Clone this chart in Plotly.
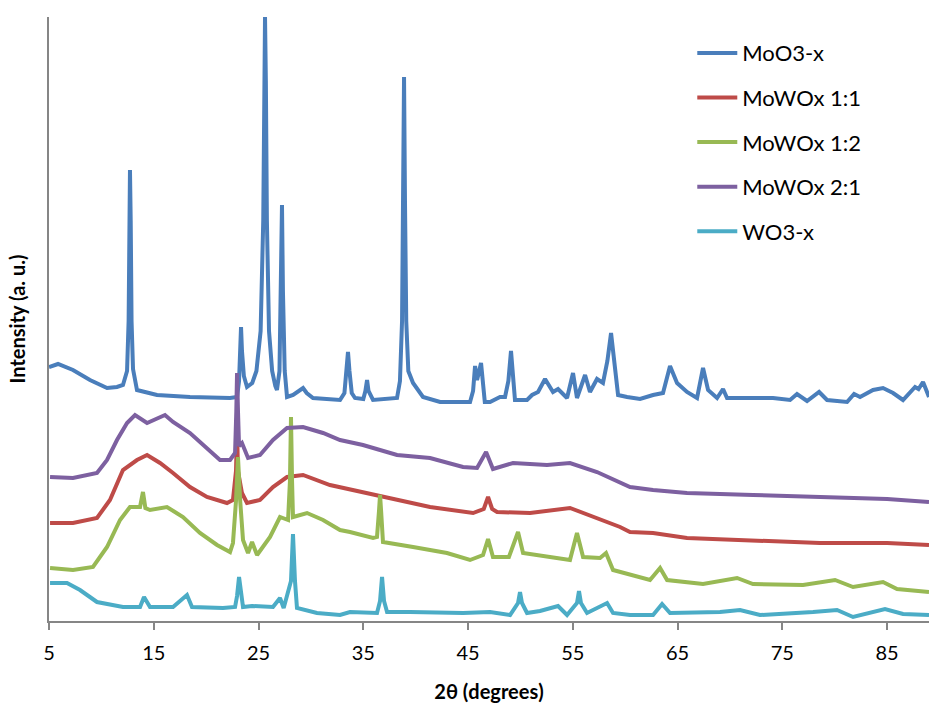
import plotly.graph_objects as go

# ---- data (2theta in degrees, intensity in arbitrary units) ----
moo3_x = [5.00, 5.86, 7.29, 8.91, 10.54, 11.49, 12.06, 12.45, 12.60, 12.68, 12.73, 12.80, 12.88, 13.02, 13.40,
          15.31, 18.46, 22.28, 22.95, 23.14, 23.25, 23.33, 23.42, 23.60, 23.90, 24.40, 24.80, 25.20, 25.45, 25.55,
          25.62, 25.70, 25.80, 26.00, 26.30, 26.60, 26.76, 27.00, 27.15, 27.24, 27.33, 27.50, 27.72, 28.30, 29.25,
          29.60, 30.20, 32.78, 33.20, 33.40, 33.54, 33.68, 33.90, 34.21, 35.00, 35.20, 35.36, 35.50, 35.93, 38.22,
          38.50, 38.70, 38.80, 38.89, 38.98, 39.10, 39.30, 39.75, 40.70, 42.33, 45.19, 45.48, 45.67, 45.86, 46.24,
          46.60, 47.10, 48.05, 48.53, 48.85, 49.10, 49.30, 49.48, 50.63, 51.11, 51.68, 52.35, 53.11, 53.59, 54.45,
          55.02, 55.40, 56.17, 56.64, 57.31, 57.88, 58.30, 58.65, 58.95, 59.32, 60.18, 61.42, 62.66, 63.61, 64.28,
          64.95, 65.90, 66.86, 67.43, 67.91, 68.77, 69.34, 69.72, 70.96, 74.11, 75.74, 76.40, 77.36, 78.51, 79.27,
          81.18, 81.85, 82.42, 83.66, 84.61, 85.57, 86.52, 87.67, 88.00, 88.43, 89.00]
moo3_y = [254, 257, 251, 241, 233, 234, 236, 250, 300, 400, 451, 400, 300, 252, 231,
          226, 224, 223, 224, 240, 270, 294, 270, 245, 234, 238, 250, 290, 400, 540,
          604, 540, 400, 290, 250, 235, 231, 250, 330, 416, 330, 250, 224, 226, 233,
          228, 223, 221, 228, 250, 269, 250, 228, 223, 222, 230, 241, 230, 221, 223,
          240, 300, 420, 544, 420, 300, 250, 238, 224, 219, 219, 230, 255, 241, 258,
          219, 219, 224, 224, 240, 270, 240, 221, 221, 226, 229, 242, 229, 232, 223,
          248, 223, 246, 229, 242, 238, 260, 288, 260, 226, 224, 222, 226, 228, 255,
          238, 229, 223, 253, 231, 223, 232, 223, 223, 223, 221, 227, 220, 229, 221,
          219, 227, 224, 231, 233, 228, 221, 234, 232, 239, 224]

w11_x = [5.10, 7.29, 9.58, 10.82, 12.06, 13.40, 14.36, 15.60, 16.84, 18.46, 20.08, 21.99, 22.56, 22.85, 22.95,
         23.04, 23.42, 23.90, 25.14, 26.38, 27.72, 29.25, 31.82, 34.97, 38.22, 41.37, 45.48, 46.50, 46.91, 47.30,
         47.77, 50.92, 54.73, 57.31, 59.51, 60.46, 62.66, 65.90, 72.20, 78.60, 85.00, 89.00]
w11_y = [98, 98, 103, 121, 151, 161, 166, 158, 148, 134, 124, 118, 121, 150, 193,
         150, 128, 118, 121, 134, 144, 146, 136, 129, 121, 114, 108, 112, 124, 112,
         109, 108, 113, 103, 94, 89, 88, 83, 81, 78, 78, 76]

w12_x = [5.10, 7.29, 9.20, 10.54, 11.78, 12.73, 13.69, 13.97, 14.20, 14.64, 16.26, 17.79, 19.41, 21.04, 22.28,
         22.56, 22.85, 23.04, 23.25, 23.52, 24.00, 24.38, 24.86, 26.10, 27.05, 27.82, 28.00, 28.10, 28.20, 28.29,
         29.63, 31.16, 32.78, 33.73, 35.93, 36.31, 36.50, 36.60, 36.70, 36.88, 39.75, 42.99, 45.19, 46.43, 46.91,
         47.38, 48.90, 49.77, 50.25, 52.54, 54.73, 55.40, 55.98, 57.60, 58.17, 58.84, 60.46, 62.37, 63.33, 64.00,
         67.43, 70.68, 72.20, 76.98, 80.03, 81.75, 84.61, 85.95, 89.00]
w12_y = [53, 51, 54, 74, 101, 114, 114, 129, 113, 111, 114, 104, 88, 76, 69,
         78, 120, 164, 120, 81, 68, 79, 66, 84, 104, 101, 140, 204, 140, 104,
         108, 101, 91, 89, 83, 84, 110, 126, 110, 79, 74, 68, 61, 66, 82,
         64, 64, 89, 68, 64, 61, 88, 64, 63, 68, 51, 46, 41, 53, 41,
         37, 43, 37, 36, 41, 34, 39, 32, 29]

w21_x = [5.10, 7.29, 9.58, 10.54, 11.49, 12.45, 13.21, 14.36, 16.07, 16.84, 18.46, 20.08, 21.32, 22.28, 22.76,
         22.88, 22.95, 23.04, 23.14, 23.42, 24.00, 25.14, 26.38, 27.72, 29.25, 31.16, 32.78, 34.97, 38.22, 41.37,
         44.52, 45.86, 46.72, 47.38, 49.29, 52.54, 54.73, 57.31, 59.51, 60.46, 62.66, 65.90, 72.20, 78.60, 85.00,
         89.00]
w21_y = [144, 143, 148, 161, 181, 198, 206, 198, 206, 199, 188, 173, 161, 161, 168,
         210, 248, 210, 175, 178, 163, 166, 181, 193, 194, 188, 181, 176, 166, 163,
         154, 153, 169, 152, 158, 156, 158, 149, 139, 134, 131, 128, 126, 124, 122,
         119]

wo3_x = [5.10, 6.72, 7.96, 9.58, 12.06, 13.69, 14.07, 14.64, 16.84, 18.17, 18.65, 21.61, 22.76, 22.95, 23.14,
         23.33, 23.52, 24.38, 26.38, 27.05, 27.40, 28.10, 28.29, 28.48, 28.67, 30.58, 32.78, 33.73, 36.31, 36.60,
         36.79, 36.98, 37.27, 39.46, 42.99, 44.52, 47.10, 49.01, 49.77, 49.96, 50.15, 50.63, 51.87, 53.59, 54.45,
         55.40, 55.59, 55.78, 56.36, 58.27, 58.84, 60.46, 62.66, 63.52, 64.28, 69.05, 70.96, 72.87, 77.93, 80.22,
         81.75, 84.80, 86.52, 89.00]
wo3_y = [38, 38, 31, 19, 14, 14, 24, 14, 14, 26, 14, 13, 14, 25, 44,
         25, 14, 15, 14, 23, 13, 40, 87, 40, 13, 8, 6, 9, 8, 20,
         44, 20, 9, 9, 8, 8, 9, 6, 18, 29, 18, 8, 10, 15, 6,
         18, 30, 18, 8, 18, 8, 6, 6, 17, 8, 9, 11, 6, 9, 11,
         4, 12, 7, 6]

series_names = ["MoO3-x", "MoWOx 1:1", "MoWOx 1:2", "MoWOx 2:1", "WO3-x"]
series_x = [moo3_x, w11_x, w12_x, w21_x, wo3_x]
series_y = [moo3_y, w11_y, w12_y, w21_y, wo3_y]
colors = ["#4A7EBB", "#BE4B48", "#98B954", "#7D60A0", "#4BACC6"]

tick_vals = [5, 15, 25, 35, 45, 55, 65, 75, 85]
tick_text = ["5", "15", "25", "35", "45", "55", "65", "75", "85"]

FONT = "Lato, Carlito, Calibri, sans-serif"

fig = go.Figure()
for i, (name, xs, ys, c) in enumerate(zip(series_names, series_x, series_y, colors)):
    fig.add_trace(go.Scatter(x=xs, y=ys, mode="lines", name=name,
                             line=dict(color=c, width=4), legendgroup=f"g{i}"))

fig.update_layout(
    width=929, height=704,
    margin=dict(l=49, r=0, t=17, b=83, autoexpand=False),
    paper_bgcolor="white", plot_bgcolor="white",
    font=dict(family=FONT, color="black", size=20),
    showlegend=True,
    legend=dict(x=0.731, y=0.975, xanchor="left", yanchor="top",
                font=dict(family=FONT, size=22, color="black"),
                bgcolor="rgba(0,0,0,0)", tracegroupgap=13, itemwidth=40),
    xaxis=dict(range=[5, 89], tickvals=tick_vals, ticktext=tick_text, automargin=False,
               showline=True, linecolor="#868686", linewidth=1.5,
               ticks="outside", ticklen=7, tickcolor="#868686", tickwidth=1.5,
               ticklabelstandoff=6,
               showgrid=False, zeroline=False,
               tickfont=dict(family=FONT, size=20, color="black"),
               title=dict(text="<b>2θ (degrees)</b>", font=dict(family=FONT, size=20), standoff=22)),
    yaxis=dict(range=[0, 604], showticklabels=False, showline=True, linecolor="#868686", linewidth=1.5,
               showgrid=False, zeroline=False, ticks="", automargin=False,
               title=dict(text="<b>Intensity (a. u.)</b>", font=dict(family=FONT, size=20), standoff=16)),
)

fig.write_html("out.html", config={"displayModeBar": False},
               post_script="document.body.style.margin='0';document.body.style.padding='0';window.dispatchEvent(new Event('resize'));")
